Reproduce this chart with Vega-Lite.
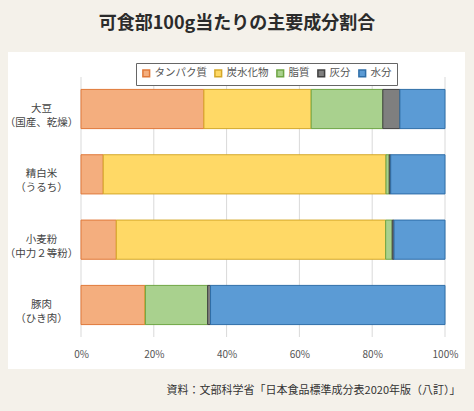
{
  "$schema": "https://vega.github.io/schema/vega-lite/v6.json",
  "autosize": {"type": "none"},
  "width": 364,
  "height": 260,
  "padding": {"left": 81, "top": 77, "right": 29, "bottom": 74},
  "background": "#f4f1ea",
  "config": {
    "font": "Noto Sans CJK JP",
    "view": {"stroke": null}
  },
  "title": {
    "text": "可食部100g当たりの主要成分割合",
    "fontSize": 18,
    "fontWeight": "bold",
    "color": "#2b2b2b",
    "anchor": "middle",
    "frame": "group",
    "dx": -26,
    "offset": 19
  },
  "layer": [
    {
      "data": {"values": [{}]},
      "mark": {"type": "rect", "color": "#ffffff"},
      "encoding": {
        "x": {"datum": -0.2005, "type": "quantitative"},
        "x2": {"datum": 1.055},
        "y": {"datum": 1.096, "type": "quantitative", "scale": {"domain": [0, 1], "nice": false, "zero": false}, "axis": null},
        "y2": {"datum": -0.123}
      }
    },
    {
      "data": {"values": [{"g": 0}, {"g": 0.2}, {"g": 0.4}, {"g": 0.6}, {"g": 0.8}, {"g": 1}]},
      "mark": {"type": "rule", "color": "#d9d9d9", "strokeWidth": 1},
      "encoding": {
        "x": {"field": "g", "type": "quantitative"}
      }
    },
    {
      "data": {
        "values": [
          {"food": "大豆\n（国産、乾燥）", "component": "タンパク質", "value": 33.8},
          {"food": "大豆\n（国産、乾燥）", "component": "炭水化物", "value": 29.5},
          {"food": "大豆\n（国産、乾燥）", "component": "脂質", "value": 19.7},
          {"food": "大豆\n（国産、乾燥）", "component": "灰分", "value": 4.7},
          {"food": "大豆\n（国産、乾燥）", "component": "水分", "value": 12.4},
          {"food": "精白米\n（うるち）", "component": "タンパク質", "value": 6.1},
          {"food": "精白米\n（うるち）", "component": "炭水化物", "value": 77.6},
          {"food": "精白米\n（うるち）", "component": "脂質", "value": 0.9},
          {"food": "精白米\n（うるち）", "component": "灰分", "value": 0.4},
          {"food": "精白米\n（うるち）", "component": "水分", "value": 14.9},
          {"food": "小麦粉\n（中力２等粉）", "component": "タンパク質", "value": 9.7},
          {"food": "小麦粉\n（中力２等粉）", "component": "炭水化物", "value": 74.0},
          {"food": "小麦粉\n（中力２等粉）", "component": "脂質", "value": 1.8},
          {"food": "小麦粉\n（中力２等粉）", "component": "灰分", "value": 0.5},
          {"food": "小麦粉\n（中力２等粉）", "component": "水分", "value": 14.0},
          {"food": "豚肉\n（ひき肉）", "component": "タンパク質", "value": 17.7},
          {"food": "豚肉\n（ひき肉）", "component": "炭水化物", "value": 0.1},
          {"food": "豚肉\n（ひき肉）", "component": "脂質", "value": 17.2},
          {"food": "豚肉\n（ひき肉）", "component": "灰分", "value": 0.8},
          {"food": "豚肉\n（ひき肉）", "component": "水分", "value": 64.8}
        ]
      },
      "transform": [
        {"calculate": "indexof(['タンパク質', '炭水化物', '脂質', '灰分', '水分'], datum.component)", "as": "stackOrder"}
      ],
      "mark": {"type": "bar", "strokeWidth": 1},
      "encoding": {
        "y": {
          "field": "food",
          "type": "nominal",
          "sort": null,
          "scale": {"paddingInner": 0.4, "paddingOuter": 0.19},
          "axis": {
            "orient": "left",
            "zindex": 1,
            "title": null,
            "domain": false,
            "ticks": false,
            "labelExpr": "split(datum.value, '\\n')",
            "labelAlign": "center",
            "labelBaseline": "middle",
            "labelPadding": 40,
            "labelFontSize": 10.5,
            "labelLineHeight": 14,
            "labelColor": "#444444"
          }
        },
        "x": {
          "field": "value",
          "type": "quantitative",
          "stack": "normalize",
          "scale": {"domain": [0, 1], "nice": false},
          "axis": {
            "zindex": 1,
            "values": [0, 0.2, 0.4, 0.6, 0.8, 1],
            "format": ".0%",
            "grid": false,
            "domain": false,
            "ticks": false,
            "labelFlush": false,
            "labelPadding": 12,
            "labelFontSize": 10,
            "labelColor": "#555555",
            "title": "資料：文部科学省「日本食品標準成分表2020年版（八訂）」",
            "titleFontSize": 11,
            "titleFontWeight": "normal",
            "titleColor": "#333333",
            "titleAlign": "right",
            "titleBaseline": "alphabetic",
            "titleX": 379,
            "titleY": 56
          }
        },
        "order": {"field": "stackOrder", "type": "quantitative", "sort": "ascending"},
        "color": {
          "field": "component",
          "type": "nominal",
          "sort": ["タンパク質", "炭水化物", "脂質", "灰分", "水分"],
          "scale": {
            "domain": ["タンパク質", "炭水化物", "脂質", "灰分", "水分"],
            "range": ["#f4ae7e", "#ffd966", "#a9d18e", "#7f7f7f", "#5b9bd5"]
          },
          "legend": {
            "title": null,
            "orient": "none",
            "direction": "horizontal",
            "legendX": 55,
            "legendY": -14,
            "strokeColor": "#666666",
            "fillColor": "#ffffff",
            "padding": 5,
            "symbolType": "square",
            "symbolSize": 45,
            "symbolStrokeWidth": 1.5,
            "labelFontSize": 10.5,
            "labelColor": "#555555",
            "labelOffset": 3,
            "columnPadding": 4
          }
        },
        "stroke": {
          "field": "component",
          "type": "nominal",
          "sort": ["タンパク質", "炭水化物", "脂質", "灰分", "水分"],
          "scale": {
            "domain": ["タンパク質", "炭水化物", "脂質", "灰分", "水分"],
            "range": ["#e0793a", "#d4a82a", "#6ea544", "#404040", "#2f6ea8"]
          },
          "legend": {
            "title": null,
            "orient": "none",
            "direction": "horizontal",
            "legendX": 55,
            "legendY": -14,
            "strokeColor": "#666666",
            "fillColor": "#ffffff",
            "padding": 5,
            "symbolType": "square",
            "symbolSize": 45,
            "symbolStrokeWidth": 1.5,
            "labelFontSize": 10.5,
            "labelColor": "#555555",
            "labelOffset": 3,
            "columnPadding": 4
          }
        }
      }
    }
  ],
  "resolve": {"scale": {"y": "independent"}, "axis": {"y": "independent"}}
}
